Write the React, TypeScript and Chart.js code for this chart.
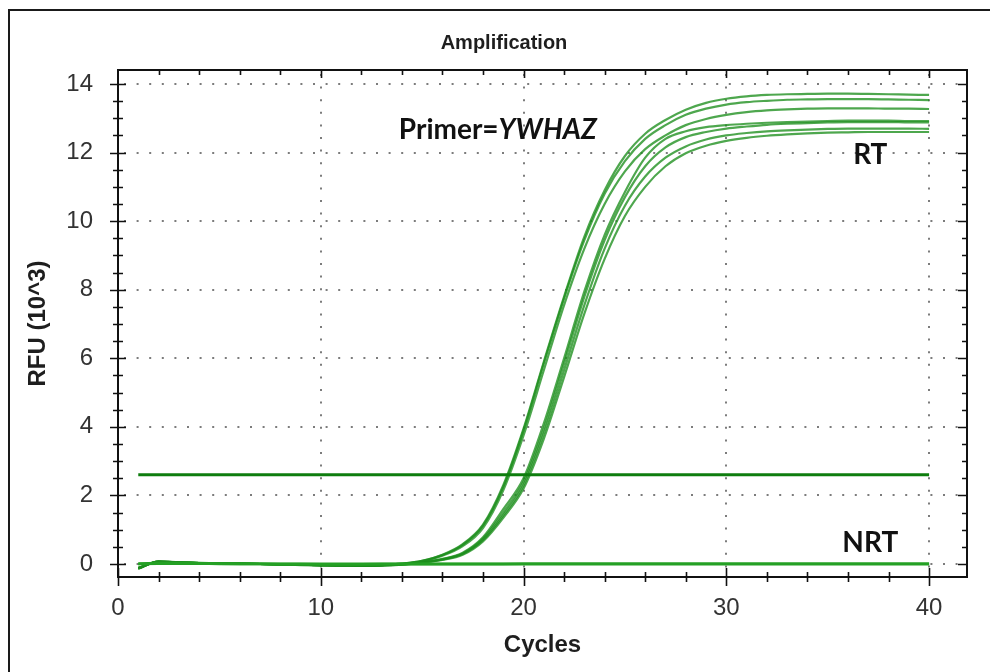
import { useEffect, useRef } from 'react';
import { Chart, registerables } from 'chart.js';

Chart.register(...registerables);

// ---- data (RFU x 10^3 per cycle) ----
const cycles = [1, 2, 3, 4, 5, 6, 7, 8, 9, 10, 11, 12, 13, 14, 15, 16, 17, 18, 19, 20, 21, 22, 23, 24, 25, 26, 27, 28, 29, 30, 31, 32, 33, 34, 35, 36, 37, 38, 39, 40];

const rtEarly1 = [-0.14, 0.08, 0.05, 0.03, 0.02, 0.01, 0.0, -0.01, -0.03, -0.04, -0.05, -0.05, -0.03, 0.01, 0.09, 0.27, 0.58, 1.15, 2.3, 3.95, 5.9, 7.8, 9.55, 10.9, 11.9, 12.55, 12.95, 13.25, 13.45, 13.57, 13.64, 13.68, 13.7, 13.71, 13.72, 13.72, 13.71, 13.7, 13.69, 13.68];
const rtEarly2 = [-0.12, 0.07, 0.05, 0.03, 0.02, 0.01, 0.0, -0.01, -0.02, -0.03, -0.04, -0.05, -0.03, 0.01, 0.09, 0.26, 0.56, 1.12, 2.25, 3.9, 5.85, 7.75, 9.45, 10.8, 11.75, 12.4, 12.8, 13.1, 13.28, 13.4, 13.47, 13.51, 13.54, 13.55, 13.56, 13.56, 13.56, 13.55, 13.54, 13.53];
const rtEarly3 = [-0.13, 0.06, 0.04, 0.03, 0.02, 0.01, 0.0, -0.01, -0.02, -0.04, -0.04, -0.04, -0.03, 0.0, 0.08, 0.24, 0.52, 1.05, 2.15, 3.75, 5.65, 7.55, 9.2, 10.5, 11.45, 12.1, 12.5, 12.8, 12.98, 13.1, 13.18, 13.23, 13.26, 13.28, 13.29, 13.29, 13.29, 13.28, 13.28, 13.27];
const rtLate1 = [-0.12, 0.07, 0.05, 0.03, 0.02, 0.01, 0.0, -0.01, -0.02, -0.03, -0.04, -0.05, -0.04, -0.01, 0.05, 0.15, 0.33, 0.78, 1.6, 2.5, 4.1, 6.0, 7.95, 9.6, 10.85, 11.85, 12.4, 12.62, 12.74, 12.8, 12.84, 12.87, 12.89, 12.9, 12.92, 12.93, 12.93, 12.93, 12.92, 12.92];
const rtLate2 = [-0.11, 0.06, 0.05, 0.03, 0.02, 0.01, 0.0, -0.01, -0.02, -0.03, -0.04, -0.04, -0.04, -0.01, 0.05, 0.14, 0.31, 0.74, 1.5, 2.4, 3.95, 5.85, 7.8, 9.45, 10.7, 11.6, 12.15, 12.45, 12.6, 12.7, 12.76, 12.81, 12.84, 12.86, 12.88, 12.89, 12.89, 12.89, 12.88, 12.88];
const rtLate3 = [-0.13, 0.07, 0.04, 0.03, 0.02, 0.01, 0.0, -0.01, -0.02, -0.03, -0.04, -0.05, -0.04, -0.02, 0.04, 0.13, 0.29, 0.7, 1.42, 2.3, 3.8, 5.65, 7.55, 9.2, 10.45, 11.3, 11.85, 12.18, 12.38, 12.5, 12.57, 12.62, 12.65, 12.67, 12.69, 12.7, 12.7, 12.7, 12.7, 12.69];
const rtLate4 = [-0.12, 0.06, 0.05, 0.03, 0.02, 0.01, 0.0, -0.01, -0.02, -0.03, -0.04, -0.05, -0.04, -0.02, 0.04, 0.12, 0.27, 0.66, 1.35, 2.2, 3.65, 5.45, 7.3, 8.9, 10.15, 11.0, 11.6, 11.98, 12.2, 12.34, 12.43, 12.49, 12.53, 12.56, 12.58, 12.59, 12.6, 12.6, 12.6, 12.6];

const nrt1 = [0.01, 0.02, 0.02, 0.02, 0.01, 0.01, 0.01, 0.0, 0.0, 0.0, 0.0, 0.0, 0.0, 0.0, 0.0, 0.0, 0.0, 0.0, 0.0, 0.0, 0.0, 0.0, 0.0, 0.0, 0.0, 0.0, 0.0, 0.0, 0.0, 0.0, 0.0, 0.0, 0.0, 0.0, 0.0, 0.0, 0.0, 0.0, 0.0, 0.0];
const nrt2 = [0.0, 0.01, 0.01, 0.01, 0.01, 0.0, 0.0, 0.0, 0.0, -0.01, -0.01, -0.01, 0.0, 0.0, 0.0, 0.0, 0.0, 0.0, 0.0, 0.01, 0.01, 0.01, 0.01, 0.01, 0.01, 0.01, 0.01, 0.01, 0.01, 0.01, 0.01, 0.01, 0.01, 0.01, 0.01, 0.01, 0.01, 0.01, 0.01, 0.01];

const thresholdCycles = [1, 40];
const thresholdValues = [2.6, 2.6];

const xTicks = [0, 10, 20, 30, 40];
const yTicks = [0, 2, 4, 6, 8, 10, 12, 14];

// annotation anchors (data units)
const primerLabel = { x: 13.85, y: 12.66, prefix: 'Primer=', gene: 'YWHAZ' };
const rtLabel = { x: 37.1, y: 11.93, text: 'RT' };
const nrtLabel = { x: 37.1, y: 0.62, text: 'NRT' };

const toPoints = (vals: number[], xs: number[] = cycles) => xs.map((c, i) => ({ x: c, y: vals[i] }));

const RT_COLOR = 'rgba(28,142,28,0.78)';

const framePlugin = {
  id: 'frame',
  beforeDatasetsDraw(chart: any) {
    const { ctx, chartArea: a, scales } = chart;
    const x = scales.x;
    const y = scales.y;
    ctx.save();
    ctx.strokeStyle = '#7c7c7c';
    ctx.lineWidth = 2;
    ctx.setLineDash([2, 10.6]);
    yTicks.forEach((v) => {
      const py = Math.round(y.getPixelForValue(v));
      ctx.beginPath();
      ctx.moveTo(a.left + 6, py);
      ctx.lineTo(a.right, py);
      ctx.stroke();
    });
    xTicks.forEach((v) => {
      if (v === 0) return;
      const px = Math.round(x.getPixelForValue(v));
      ctx.beginPath();
      ctx.moveTo(px, a.top + 4);
      ctx.lineTo(px, a.bottom);
      ctx.stroke();
    });
    ctx.restore();
  },
  afterDatasetsDraw(chart: any) {
    const { ctx, chartArea: a, scales } = chart;
    const x = scales.x;
    const y = scales.y;
    ctx.save();
    ctx.strokeStyle = '#111';
    ctx.lineWidth = 2;
    ctx.setLineDash([]);
    ctx.strokeRect(a.left, a.top, a.right - a.left, a.bottom - a.top);
    ctx.lineWidth = 1.6;
    // y ticks (left crossing, right inward)
    for (let v = 0; v <= 14.001; v += 0.5) {
      const py = Math.round(y.getPixelForValue(v)) + 0.5;
      const major = Math.abs(v % 2) < 1e-6;
      const l = major ? 8 : 5;
      ctx.beginPath();
      ctx.moveTo(a.left - l, py);
      ctx.lineTo(a.left + l, py);
      ctx.moveTo(a.right, py);
      ctx.lineTo(a.right - (major ? 9 : 5), py);
      ctx.stroke();
    }
    // x ticks (bottom crossing, top inward)
    for (let v = 0; v <= 40.001; v += 2) {
      const px = Math.round(x.getPixelForValue(v)) + 0.5;
      const major = Math.abs(v % 10) < 1e-6;
      const l = major ? 9 : 5;
      ctx.beginPath();
      ctx.moveTo(px, a.bottom - l);
      ctx.lineTo(px, a.bottom + l);
      if (v > 0) {
        ctx.moveTo(px, a.top);
        ctx.lineTo(px, a.top + (major ? 8 : 5));
      }
      ctx.stroke();
    }
    ctx.restore();

    // annotations
    ctx.save();
    ctx.fillStyle = '#111';
    ctx.textBaseline = 'middle';
    ctx.textAlign = 'left';
    const px = x.getPixelForValue(primerLabel.x);
    const py = y.getPixelForValue(primerLabel.y);
    ctx.font = 'bold 28px Lato';
    ctx.fillText(primerLabel.prefix, px, py);
    const w = ctx.measureText(primerLabel.prefix).width;
    ctx.font = 'italic bold 28px Lato';
    ctx.fillText(primerLabel.gene, px + w, py);
    ctx.font = 'bold 28px Lato';
    ctx.textAlign = 'center';
    ctx.fillText(rtLabel.text, x.getPixelForValue(rtLabel.x), y.getPixelForValue(rtLabel.y));
    ctx.fillText(nrtLabel.text, x.getPixelForValue(nrtLabel.x), y.getPixelForValue(nrtLabel.y));
    ctx.restore();
  },
};

export default function App() {
  const ref = useRef<HTMLCanvasElement>(null);
  useEffect(() => {
    if (!ref.current) return;
    const rtSeries = [rtEarly1, rtEarly2, rtEarly3, rtLate1, rtLate2, rtLate3, rtLate4];
    const chart = new Chart(ref.current, {
      type: 'line',
      data: {
        datasets: [
          {
            label: 'Threshold',
            data: toPoints(thresholdValues, thresholdCycles),
            borderColor: '#0e7d0e',
            borderWidth: 3,
            pointRadius: 0,
          },
          {
            label: 'NRT 1',
            data: toPoints(nrt1),
            borderColor: '#24a024',
            borderWidth: 3,
            pointRadius: 0,
          },
          {
            label: 'NRT 2',
            data: toPoints(nrt2),
            borderColor: '#24a024',
            borderWidth: 2.5,
            pointRadius: 0,
          },
          ...rtSeries.map((s, i) => ({
            label: 'RT ' + (i + 1),
            data: toPoints(s),
            borderColor: RT_COLOR,
            borderWidth: 2.2,
            pointRadius: 0,
            cubicInterpolationMode: 'monotone' as const,
          })),
        ],
      },
      options: {
        responsive: false,
        animation: false,
        events: [],
        layout: { padding: { left: 41, right: 23, top: 0, bottom: 0 } },
        plugins: {
          legend: { display: false },
          tooltip: { enabled: false },
          title: {
            display: true,
            text: 'Amplification',
            color: '#1e1e1e',
            font: { family: 'Liberation Sans', size: 20, weight: 'bold' },
            padding: { top: 31, bottom: 15 },
          },
        },
        scales: {
          x: {
            type: 'linear',
            min: 0,
            max: 41.87,
            afterBuildTicks: (s: any) => {
              s.ticks = xTicks.map((v) => ({ value: v }));
            },
            afterFit: (s: any) => {
              s.height = 95;
            },
            grid: { display: false, drawTicks: false },
            border: { display: false },
            ticks: {
              autoSkip: false,
              maxRotation: 0,
              padding: 17,
              color: '#333',
              font: { family: 'Liberation Sans', size: 24 },
            },
            title: {
              display: true,
              text: 'Cycles',
              color: '#1e1e1e',
              font: { family: 'Liberation Sans', size: 24, weight: 'bold' },
              padding: { top: 0, bottom: 12 },
            },
          },
          y: {
            type: 'linear',
            min: -0.379,
            max: 14.408,
            afterBuildTicks: (s: any) => {
              s.ticks = yTicks.map((v) => ({ value: v }));
            },
            afterFit: (s: any) => {
              s.width = 77;
            },
            grid: { display: false, drawTicks: false },
            border: { display: false },
            ticks: {
              autoSkip: false,
              padding: 25,
              color: '#333',
              font: { family: 'Liberation Sans', size: 24 },
            },
            title: {
              display: true,
              text: 'RFU (10^3)',
              color: '#1e1e1e',
              font: { family: 'Liberation Sans', size: 24, weight: 'bold' },
              padding: { top: -17.4, bottom: 0 },
            },
          },
        },
      },
      plugins: [framePlugin],
    } as any);
    return () => chart.destroy();
  }, []);

  return (
    <div
      style={{
        position: 'fixed',
        left: 0,
        top: 0,
        width: 990,
        height: 672,
        overflow: 'hidden',
        background: '#fff',
      }}
    >
      <div
        style={{
          position: 'absolute',
          left: 8,
          top: 9,
          width: 1100,
          height: 800,
          border: '2px solid #1a1a1a',
        }}
      />
      <canvas
        ref={ref}
        width={990}
        height={672}
        style={{ position: 'absolute', left: 0, top: 0, width: 990, height: 672 }}
      />
    </div>
  );
}
